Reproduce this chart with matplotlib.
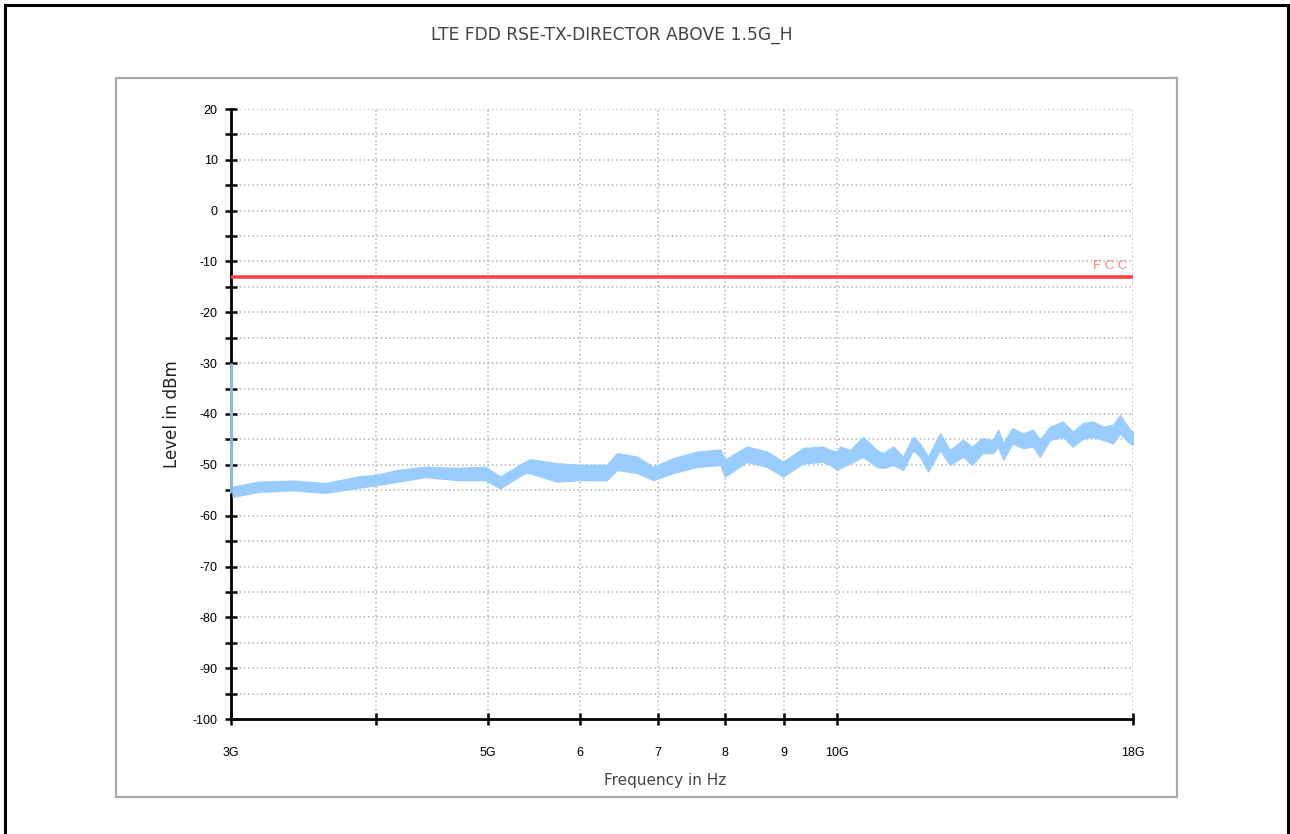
import matplotlib
matplotlib.use("Agg")
import matplotlib.pyplot as plt
from matplotlib.patches import Rectangle
from matplotlib.lines import Line2D

# ---------------- data ----------------
title = "LTE FDD RSE-TX-DIRECTOR ABOVE 1.5G_H"
x_label = "Frequency in Hz"
y_label = "Level in dBm"

x_ticks = [3, 4, 5, 6, 7, 8, 9, 10, 18]                 # GHz
x_tick_labels = ["3G", "", "5G", "6", "7", "8", "9", "10G", "18G"]
y_ticks = [20, 10, 0, -10, -20, -30, -40, -50, -60, -70, -80, -90, -100]
y_tick_labels = ["20", "10", "0", "-10", "-20", "-30", "-40", "-50",
                 "-60", "-70", "-80", "-90", "-100"]

limit_name = "F C C"
limit_level = -13.0                                     # dBm
limit_freq = [3.0, 18.0]

# measured trace, read as upper / lower envelope of the noisy band
trace_freq = [3.01, 3.17, 3.39, 3.62, 3.86, 4.00, 4.18, 4.41, 4.71, 4.97,
              5.12, 5.38, 5.43, 5.73, 6.00, 6.33, 6.46, 6.72, 6.94, 7.22,
              7.57, 7.93, 8.00, 8.36, 8.70, 8.98, 9.35, 9.72, 9.86, 10.0,
              10.06, 10.26, 10.53, 10.82, 10.96, 11.18, 11.40, 11.63, 11.79, 11.98,
              12.27, 12.51, 12.84, 13.07, 13.34, 13.63, 13.77, 13.91, 14.16, 14.47,
              14.76, 14.96, 15.26, 15.66, 15.97, 16.30, 16.62, 16.96, 17.30, 17.54,
              17.89, 18.0]
trace_upper = [-54.3, -53.3, -53.1, -53.6, -52.3, -52.0, -51.0, -50.4, -50.6, -50.4,
               -52.3, -49.4, -48.9, -49.7, -50.0, -50.0, -47.7, -48.4, -50.4, -48.7,
               -47.4, -47.0, -49.0, -46.4, -47.4, -49.4, -46.7, -46.4, -47.1, -47.4,
               -46.4, -47.1, -44.5, -47.1, -47.7, -46.4, -48.4, -44.5, -45.8, -48.4,
               -43.8, -47.1, -45.1, -46.4, -44.8, -45.1, -43.1, -45.8, -42.8, -43.8,
               -43.1, -45.1, -42.5, -41.5, -43.5, -41.8, -41.5, -42.5, -42.1, -40.2,
               -43.1, -43.5]
trace_lower = [-56.3, -55.3, -55.0, -55.5, -54.5, -54.0, -53.3, -52.4, -53.0, -53.0,
               -54.6, -51.6, -51.6, -53.3, -53.0, -53.0, -51.0, -51.6, -53.0, -51.6,
               -50.4, -50.0, -52.3, -49.4, -50.4, -52.3, -49.7, -49.4, -50.0, -51.0,
               -50.6, -49.7, -48.4, -50.4, -50.6, -50.0, -51.0, -47.1, -48.4, -51.3,
               -47.1, -50.0, -48.4, -50.0, -47.7, -47.7, -46.4, -49.0, -45.8, -46.7,
               -46.4, -48.4, -45.1, -44.5, -46.4, -44.8, -44.5, -45.1, -45.8, -43.8,
               -45.8, -46.0]

# initial spike at the start frequency
spike_freq = [3.0, 3.0]
spike_level = [-30.0, -55.5]

# ---------------- figure ----------------
W, H = 1290, 834
fig = plt.figure(figsize=(W / 100, H / 100), dpi=100)
fig.patch.set_facecolor("white")
plt.rcParams["font.family"] = ["Liberation Sans", "DejaVu Sans"]

def fx(px):
    return px / W

def fy(py):
    return 1 - py / H

# outer black frame (top, left, right)
for xs, ys in [([fx(5), fx(1288)], [fy(5), fy(5)]),
               ([fx(5), fx(5)], [fy(5), 0]),
               ([fx(1288), fx(1288)], [fy(5), 0])]:
    fig.add_artist(Line2D(xs, ys, transform=fig.transFigure,
                          color="black", lw=2.2))

# grey panel box
fig.add_artist(Rectangle((fx(116), fy(797)), fx(1177) - fx(116),
                         fy(78) - fy(797), transform=fig.transFigure,
                         facecolor="none", edgecolor="#aaaaaa", lw=1.6))

ax = fig.add_axes([fx(231), fy(719), fx(1133) - fx(231), fy(109) - fy(719)])
ax.set_xscale("log")
ax.set_xlim(3, 18)
ax.set_ylim(-100, 20)

# grid
for v in range(-95, 21, 5):
    ax.axhline(v, color="#b4b4b4", lw=1.1, ls=(0, (1, 1.8)), zorder=1)
for f in x_ticks[1:]:
    ax.axvline(f, color="#b4b4b4", lw=1.1, ls=(0, (1, 1.8)), zorder=1)

# trace
ax.fill_between(trace_freq, trace_lower, trace_upper, color="#99ccff",
                lw=1.0, edgecolor="#99ccff", zorder=3)
ax.plot(spike_freq, spike_level, color="#88b8e8", lw=2.2, zorder=5,
        clip_on=False, solid_capstyle="butt")

# limit line
ax.plot(limit_freq, [limit_level, limit_level], color="#ff4444", lw=2.6,
        zorder=4, solid_capstyle="butt")
ax.text(0.9935, limit_level + 1.0, limit_name, transform=ax.get_yaxis_transform(),
        ha="right", va="bottom", color="#ff8080", fontsize=9.5)

# spines
for s in ["top", "right"]:
    ax.spines[s].set_visible(False)
for s in ["left", "bottom"]:
    ax.spines[s].set_color("black")
    ax.spines[s].set_linewidth(2.0)

ax.set_xticks(x_ticks)
ax.set_xticklabels(x_tick_labels)
ax.xaxis.set_minor_locator(matplotlib.ticker.NullLocator())
ax.set_yticks(y_ticks)
ax.set_yticklabels(y_tick_labels)
ax.set_yticks(list(range(-95, 20, 10)), minor=True)

ax.tick_params(axis="x", which="major", direction="inout", length=9, width=1.8,
               pad=16, labelsize=9, colors="black")
ax.tick_params(axis="y", which="major", direction="inout", length=9, width=1.8,
               pad=5, labelsize=9, colors="black")
ax.tick_params(axis="y", which="minor", direction="inout", length=9, width=1.8)
ax.set_facecolor("white")

# texts
fig.text(fx(612), fy(35), title, ha="center", va="center",
         color="#444444", fontsize=12.3, family="DejaVu Sans")
fig.text(fx(665), fy(781), x_label, ha="center", va="center",
         color="#444444", fontsize=11, family="DejaVu Sans")
fig.text(fx(172), fy(414), y_label, ha="center", va="center",
         rotation=90, color="#222222", fontsize=12, family="DejaVu Sans")

fig.savefig("out.png", dpi=100, facecolor="white")
